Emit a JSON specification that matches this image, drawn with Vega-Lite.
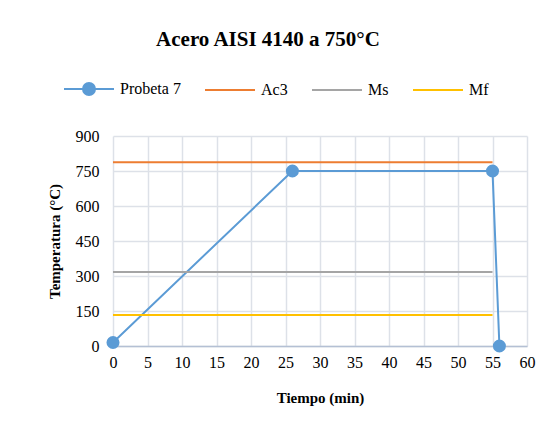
{
  "$schema": "https://vega.github.io/schema/vega-lite/v6.json",
  "width": 414,
  "height": 210,
  "autosize": "none",
  "padding": {"left": 113, "top": 136, "right": 31, "bottom": 94},
  "background": "white",
  "config": {
    "font": "Liberation Serif",
    "view": {"stroke": null},
    "axis": {
      "labelFont": "Liberation Serif",
      "labelFontSize": 16,
      "labelColor": "#000000",
      "labelFlush": false,
      "titleFont": "Liberation Serif",
      "titleFontSize": 15,
      "titleFontWeight": "bold",
      "titleColor": "#000000",
      "gridColor": "#DDE1E8",
      "gridWidth": 1.5,
      "ticks": false
    }
  },
  "title": {
    "text": "Acero AISI 4140 a 750°C",
    "font": "Liberation Serif",
    "fontSize": 21,
    "fontWeight": "bold",
    "color": "#000000",
    "anchor": "middle",
    "dx": -52,
    "offset": 13
  },
  "data": {
    "values": [
      {"serie": "Probeta 7", "t": 0, "temp": 15},
      {"serie": "Probeta 7", "t": 26, "temp": 750},
      {"serie": "Probeta 7", "t": 55, "temp": 750},
      {"serie": "Probeta 7", "t": 56, "temp": 0},
      {"serie": "Ac3", "t": 0, "temp": 788},
      {"serie": "Ac3", "t": 55, "temp": 788},
      {"serie": "Ms", "t": 0, "temp": 317},
      {"serie": "Ms", "t": 55, "temp": 317},
      {"serie": "Mf", "t": 0, "temp": 133},
      {"serie": "Mf", "t": 55, "temp": 133}
    ]
  },
  "encoding": {
    "x": {
      "field": "t",
      "type": "quantitative",
      "title": "Tiempo (min)",
      "scale": {"domain": [0, 60], "nice": false},
      "axis": {
        "values": [0, 5, 10, 15, 20, 25, 30, 35, 40, 45, 50, 55, 60],
        "labelFont": "Liberation Serif",
        "labelFlush": false,
        "domainColor": "#B4C0D4",
        "domainWidth": 1.5,
        "labelPadding": 8,
        "titlePadding": 20
      }
    },
    "y": {
      "field": "temp",
      "type": "quantitative",
      "title": "Temperatura (°C)",
      "scale": {"domain": [0, 900], "nice": false},
      "axis": {
        "values": [0, 150, 300, 450, 600, 750, 900],
        "labelFont": "Liberation Serif",
        "labelFlush": false,
        "domain": false,
        "labelPadding": 14,
        "titlePadding": 13
      }
    }
  },
  "layer": [
    {
      "mark": {"type": "line", "strokeWidth": 2},
      "encoding": {
        "color": {
          "field": "serie",
          "type": "nominal",
          "scale": {
            "domain": ["Probeta 7", "Ac3", "Ms", "Mf"],
            "range": ["#5B9BD5", "#ED7D31", "#A5A5A5", "#FFC000"]
          },
          "legend": {
            "title": null,
            "orient": "none",
            "direction": "horizontal",
            "columns": 4,
            "legendX": -50,
            "legendY": -73,
            "columnPadding": 20,
            "labelFont": "Liberation Serif",
            "labelFontSize": 16,
            "labelColor": "#000000",
            "labelOffset": 5,
            "symbolSize": 2500,
            "symbolStrokeWidth": 2,
            "encode": {
              "symbols": {
                "update": {
                  "shape": {"signal": "datum.value === 'Probeta 7' ? 'M-1,0H1M0.24,0A0.24,0.24,0,1,1,-0.24,0A0.24,0.24,0,1,1,0.24,0Z' : 'M-1,0H1'"},
                  "fill": {"signal": "datum.value === 'Probeta 7' ? '#5B9BD5' : 'transparent'"},
                  "fillOpacity": {"value": 1}
                }
              }
            }
          }
        },
        "detail": {"field": "serie"}
      }
    },
    {
      "transform": [{"filter": "datum.serie === 'Probeta 7'"}],
      "mark": {"type": "point", "filled": true, "size": 170, "opacity": 1, "color": "#5B9BD5"},
      "encoding": {}
    }
  ]
}
